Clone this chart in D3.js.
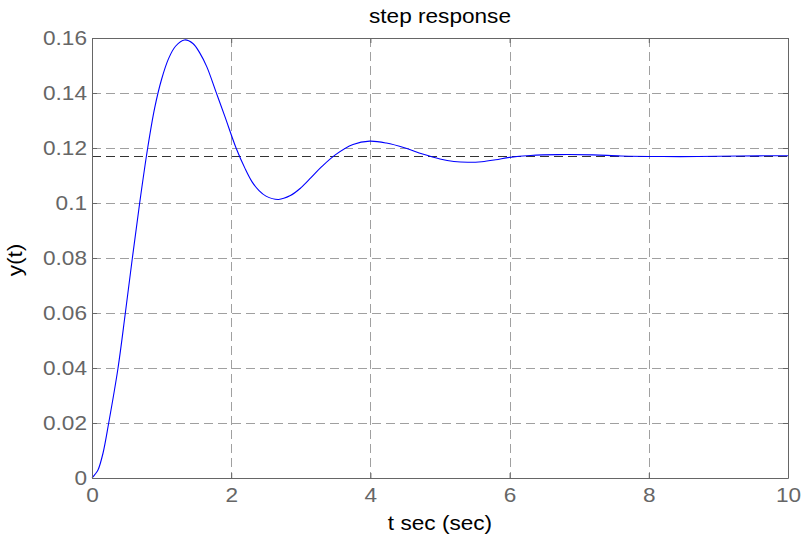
<!DOCTYPE html>
<html>
<head>
<meta charset="utf-8">
<script src="https://cdn.jsdelivr.net/npm/d3@7"></script>
<style>
    body { margin: 0; background: #fff; }
    svg text { font-family: "Liberation Sans", Arial, sans-serif; }
</style>
</head>
<body>
<svg id="chart"></svg>
<script>
    // values
    var timeSec = [0, 0.04, 0.086, 0.158, 0.24, 0.374, 0.479, 0.58, 0.685, 0.8, 0.9, 1.0, 1.1, 1.2, 1.33,
        1.45, 1.55, 1.65, 1.78, 1.91, 2.07, 2.2, 2.3, 2.4, 2.5, 2.68, 2.85, 3.0, 3.15, 3.3,
        3.5, 3.75, 3.99, 4.23, 4.5, 4.75, 5.0, 5.2, 5.4, 5.6, 5.8, 6.0, 6.3, 6.7,
        7.2, 7.6, 8.2, 8.7, 9.3, 10];
    var response = [0, 0.0012, 0.0029, 0.009, 0.02, 0.04, 0.06, 0.08, 0.1, 0.12, 0.1345, 0.145, 0.1525, 0.157, 0.1593,
        0.158, 0.1545, 0.1495, 0.1405, 0.1314, 0.12, 0.1125, 0.1077, 0.1045, 0.1025, 0.1013, 0.1027, 0.1055, 0.1093, 0.1132,
        0.1176, 0.1213, 0.1225, 0.1218, 0.12, 0.1178, 0.116, 0.1151, 0.1148, 0.115, 0.1157, 0.1166, 0.1173, 0.1176,
        0.1175, 0.1171, 0.1169, 0.1169, 0.1171, 0.1172];
    var steadyState = 0.1172;

    var xTicks = [0, 2, 4, 6, 8, 10];
    var xTickLabels = ['0', '2', '4', '6', '8', '10'];
    var yTicks = [0, 0.02, 0.04, 0.06, 0.08, 0.1, 0.12, 0.14, 0.16];
    var yTickLabels = ['0', '0.02', '0.04', '0.06', '0.08', '0.1', '0.12', '0.14', '0.16'];

    var config = {
        width: 803,
        height: 538,
        left: 92,
        right: 788,
        top: 38,
        bottom: 478,
        fontSize: 20,
        stretch: 1.13,
        axisColor: '#666',
        gridColor: '#a0a0a0',
        dash: '9,5'
    };

    var svg = d3.select('#chart')
        .attr('width', config.width)
        .attr('height', config.height);

    var x = d3.scaleLinear().domain([0, 10]).range([config.left, config.right]);
    var y = d3.scaleLinear().domain([0, 0.16]).range([config.bottom, config.top]);

    // matlab text looks a bit wider than liberation sans, so widen it
    function widen(sel) {
        sel.each(function () {
            var w = this.getComputedTextLength();
            d3.select(this)
                .attr('textLength', w * config.stretch)
                .attr('lengthAdjust', 'spacingAndGlyphs');
        });
    }

    // grid
    var grid = svg.append('g').attr('class', 'grid')
        .attr('stroke', config.gridColor)
        .attr('stroke-dasharray', config.dash)
        .attr('stroke-width', 1);

    grid.selectAll('.vgrid')
        .data(xTicks.slice(1, -1)).enter()
        .append('line')
        .attr('x1', function (d) { return Math.round(x(d)) + 0.5; })
        .attr('x2', function (d) { return Math.round(x(d)) + 0.5; })
        .attr('y1', config.top)
        .attr('y2', config.bottom);

    grid.selectAll('.hgrid')
        .data(yTicks.slice(1, -1)).enter()
        .append('line')
        .attr('x1', config.left)
        .attr('x2', config.right)
        .attr('y1', function (d) { return Math.round(y(d)) + 0.5; })
        .attr('y2', function (d) { return Math.round(y(d)) + 0.5; });

    // final value line
    svg.append('line')
        .attr('x1', config.left)
        .attr('x2', config.right)
        .attr('y1', Math.round(y(steadyState)) + 0.5)
        .attr('y2', Math.round(y(steadyState)) + 0.5)
        .attr('stroke', '#333')
        .attr('stroke-dasharray', config.dash)
        .attr('stroke-width', 1);

    // step response curve
    var points = timeSec.map(function (t, i) { return [t, response[i]]; });

    var line = d3.line()
        .x(function (d) { return x(d[0]); })
        .y(function (d) { return y(d[1]); })
        .curve(d3.curveCatmullRom.alpha(0.5));

    svg.append('path')
        .datum(points)
        .attr('d', line)
        .attr('fill', 'none')
        .attr('stroke', '#0000ff')
        .attr('stroke-width', 1.1);

    // axes, ticks point inward
    function styleAxis(g) {
        g.selectAll('path, line').attr('stroke', config.axisColor);
        g.selectAll('text')
            .attr('fill', config.axisColor)
            .style('font-size', config.fontSize + 'px');
    }

    var xAxis = svg.append('g')
        .attr('transform', 'translate(0,' + config.bottom + ')')
        .call(d3.axisBottom(x).tickValues(xTicks)
            .tickFormat(function (d, i) { return xTickLabels[i]; })
            .tickSizeInner(-5).tickSizeOuter(0).tickPadding(10))
        .call(styleAxis);

    var yAxis = svg.append('g')
        .attr('transform', 'translate(' + config.left + ',0)')
        .call(d3.axisLeft(y).tickValues(yTicks)
            .tickFormat(function (d, i) { return yTickLabels[i]; })
            .tickSizeInner(-5).tickSizeOuter(0).tickPadding(5))
        .call(styleAxis);

    svg.append('g')
        .attr('transform', 'translate(0,' + config.top + ')')
        .call(d3.axisTop(x).tickValues(xTicks).tickFormat('')
            .tickSizeInner(-5).tickSizeOuter(0))
        .call(styleAxis);

    svg.append('g')
        .attr('transform', 'translate(' + config.right + ',0)')
        .call(d3.axisRight(y).tickValues(yTicks).tickFormat('')
            .tickSizeInner(-5).tickSizeOuter(0))
        .call(styleAxis);

    xAxis.selectAll('text').call(widen);
    yAxis.selectAll('text').call(widen);

    // title and labels
    svg.append('text')
        .attr('x', (config.left + config.right) / 2)
        .attr('y', 23)
        .attr('text-anchor', 'middle')
        .style('font-size', config.fontSize + 'px')
        .text('step response')
        .call(widen);

    svg.append('text')
        .attr('x', (config.left + config.right) / 2)
        .attr('y', 530)
        .attr('text-anchor', 'middle')
        .style('font-size', config.fontSize + 'px')
        .text('t sec (sec)')
        .call(widen);

    svg.append('text')
        .attr('transform', 'translate(22,260) rotate(-90)')
        .attr('text-anchor', 'middle')
        .style('font-size', config.fontSize + 'px')
        .text('y(t)')
        .call(widen);
</script>
</body>
</html>
